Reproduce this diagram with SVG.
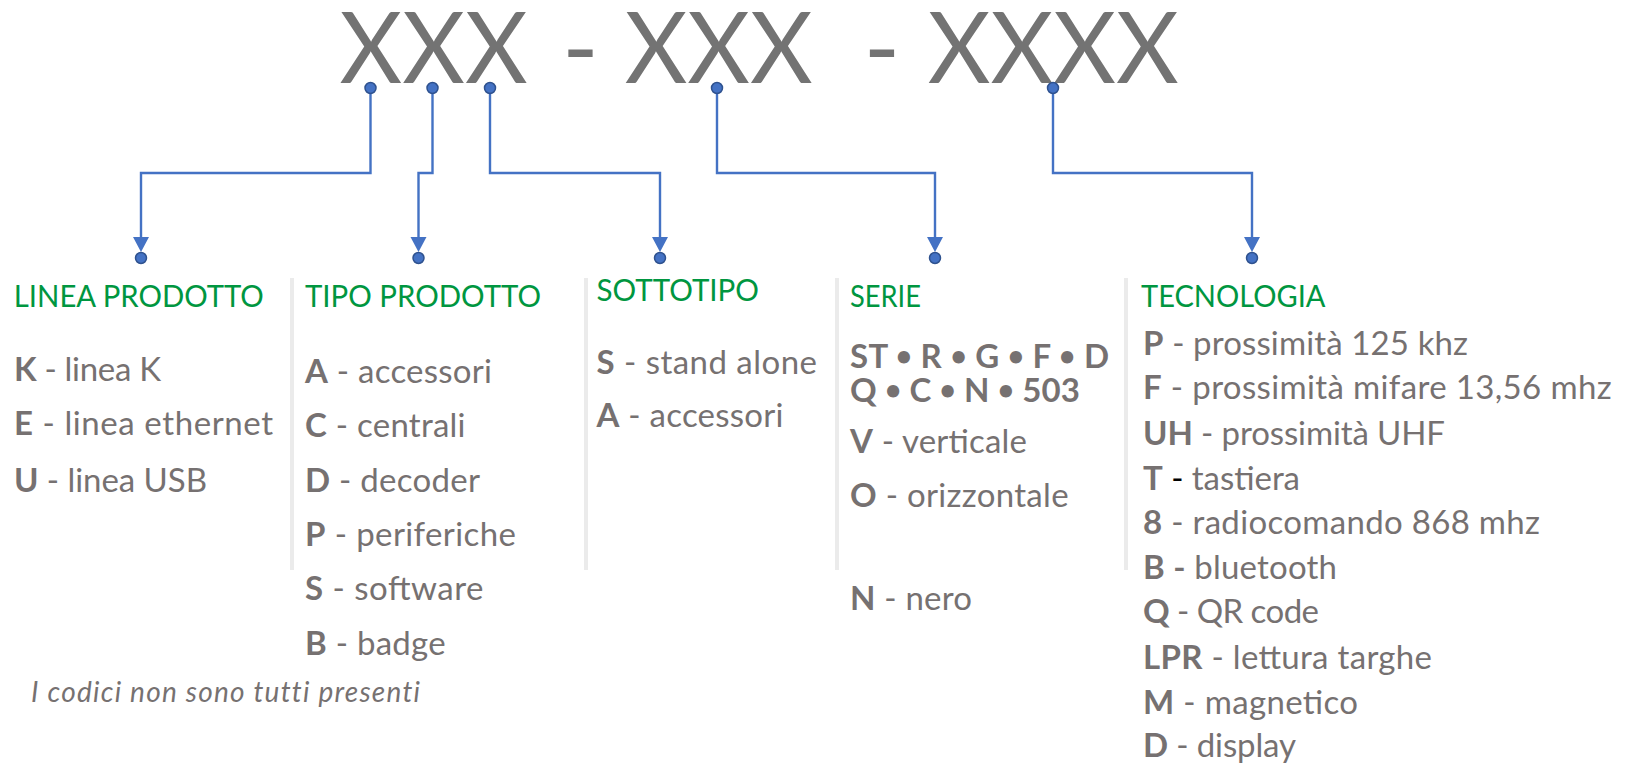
<svg xmlns="http://www.w3.org/2000/svg" width="1626" height="764" viewBox="0 0 1626 764">
  <style>
    .code { font-family: Lato, "Open Sans", sans-serif; font-size: 98px; fill: #737373; }
    .head { font-family: Lato, "Open Sans", sans-serif; font-size: 30px; fill: #009640; }
    .item { font-family: Lato, "Open Sans", sans-serif; font-size: 33px; fill: #767171; }
    .item tspan.k { font-weight: bold; }
    .item tspan.b { font-size: 28px; font-weight: bold; }
    .note { font-family: Lato, "Open Sans", sans-serif; font-size: 28px; font-style: italic; fill: #767171; font-variant-ligatures: none; }
    .sep { stroke: #ebebeb; stroke-width: 4; }
    .wire { fill: none; stroke: #4472C4; stroke-width: 2.4; }
    .dot { fill: #4472C4; stroke: #2F528F; stroke-width: 1.5; }
    .tip { fill: #4472C4; }
  </style>
  <defs>
    <circle id="pin" r="5.5" class="dot"/>
    <path id="head" class="tip" d="M-8,0 H8 L0,15 Z"/>
  </defs>

  <rect width="1626" height="764" fill="#ffffff"/>

  <!-- product code template -->
  <g id="code">
    <text class="code" x="339.6" y="83" textLength="188" lengthAdjust="spacingAndGlyphs">XXX</text>
    <text class="code" x="580.4" y="83" text-anchor="middle">-</text>
    <text class="code" x="624.7" y="83" textLength="188" lengthAdjust="spacingAndGlyphs">XXX</text>
    <text class="code" x="882" y="83" text-anchor="middle">-</text>
    <text class="code" x="927.7" y="83" textLength="251" lengthAdjust="spacingAndGlyphs">XXXX</text>
  </g>

  <!-- column separators -->
  <g id="separators">
    <line class="sep" x1="292" y1="278" x2="292" y2="570"/>
    <line class="sep" x1="586" y1="278" x2="586" y2="570"/>
    <line class="sep" x1="837" y1="278" x2="837" y2="570"/>
    <line class="sep" x1="1126" y1="278" x2="1126" y2="570"/>
  </g>

  <!-- connectors from code positions to categories -->
  <g id="connectors">
    <path class="wire" d="M370.5,88 V173 H141 V238"/>
    <path class="wire" d="M432.5,88 V173 H418.5 V238"/>
    <path class="wire" d="M490,88 V173 H660 V238"/>
    <path class="wire" d="M717,88 V173 H935 V238"/>
    <path class="wire" d="M1053,88 V173 H1252 V238"/>
    <use href="#head" x="141" y="237"/>
    <use href="#head" x="418.5" y="237"/>
    <use href="#head" x="660" y="237"/>
    <use href="#head" x="935" y="237"/>
    <use href="#head" x="1252" y="237"/>
    <use href="#pin" x="370.5" y="88"/>
    <use href="#pin" x="432.5" y="88"/>
    <use href="#pin" x="490" y="88"/>
    <use href="#pin" x="717" y="88"/>
    <use href="#pin" x="1053" y="88"/>
    <use href="#pin" x="141" y="258"/>
    <use href="#pin" x="418.5" y="258"/>
    <use href="#pin" x="660" y="258"/>
    <use href="#pin" x="935" y="258"/>
    <use href="#pin" x="1252" y="258"/>
  </g>

  <g id="linea-prodotto">
    <text class="head" x="13.8" y="307" textLength="250" lengthAdjust="spacingAndGlyphs">LINEA PRODOTTO</text>
    <text class="item" x="14" y="381" textLength="147"><tspan class="k">K</tspan> - linea K</text>
    <text class="item" x="14" y="435" textLength="259"><tspan class="k">E</tspan> - linea ethernet</text>
    <text class="item" x="14" y="491.5" textLength="193"><tspan class="k">U</tspan> - linea USB</text>
    <text class="note" x="31" y="702" textLength="389">I codici non sono tutti presenti</text>
  </g>

  <g id="tipo-prodotto">
    <text class="head" x="305" y="307" textLength="236" lengthAdjust="spacingAndGlyphs">TIPO PRODOTTO</text>
    <text class="item" x="305" y="383" textLength="187"><tspan class="k">A</tspan> - accessori</text>
    <text class="item" x="305" y="437" textLength="160.5"><tspan class="k">C</tspan> - centrali</text>
    <text class="item" x="305" y="491.5" textLength="175"><tspan class="k">D</tspan> - decoder</text>
    <text class="item" x="305" y="546" textLength="211"><tspan class="k">P</tspan> - periferiche</text>
    <text class="item" x="305" y="600" textLength="178.5"><tspan class="k">S</tspan> - software</text>
    <text class="item" x="305" y="655" textLength="140.6"><tspan class="k">B</tspan> - badge</text>
  </g>

  <g id="sottotipo">
    <text class="head" x="596.5" y="301" textLength="162.5" lengthAdjust="spacingAndGlyphs">SOTTOTIPO</text>
    <text class="item" x="596.5" y="373.5" textLength="220.5"><tspan class="k">S</tspan> - stand alone</text>
    <text class="item" x="596.5" y="427" textLength="187"><tspan class="k">A</tspan> - accessori</text>
  </g>

  <g id="serie">
    <text class="head" x="850" y="307" textLength="71" lengthAdjust="spacingAndGlyphs">SERIE</text>
    <text class="item" x="850" y="367.5" textLength="259" font-weight="bold">ST <tspan class="b" baseline-shift="2">•</tspan> R <tspan class="b" baseline-shift="2">•</tspan> G <tspan class="b" baseline-shift="2">•</tspan> F <tspan class="b" baseline-shift="2">•</tspan> D</text>
    <text class="item" x="850" y="402" textLength="230" font-weight="bold">Q <tspan class="b" baseline-shift="2">•</tspan> C <tspan class="b" baseline-shift="2">•</tspan> N <tspan class="b" baseline-shift="2">•</tspan> 503</text>
    <text class="item" x="850" y="453" textLength="177"><tspan class="k">V</tspan> - verticale</text>
    <text class="item" x="850" y="507" textLength="218.6"><tspan class="k">O</tspan> - orizzontale</text>
    <text class="item" x="850" y="609.5" textLength="122"><tspan class="k">N</tspan> - nero</text>
  </g>

  <g id="tecnologia">
    <text class="head" x="1141" y="307" textLength="184.5" lengthAdjust="spacingAndGlyphs">TECNOLOGIA</text>
    <text class="item" x="1143" y="355" textLength="325"><tspan class="k">P</tspan> - prossimità 125 khz</text>
    <text class="item" x="1143" y="398.5" textLength="468.6"><tspan class="k">F</tspan> - prossimità mifare 13,56 mhz</text>
    <text class="item" x="1143" y="444.5" textLength="302"><tspan class="k">UH</tspan> - prossimità UHF</text>
    <text class="item" x="1143" y="489.5" textLength="157"><tspan class="k">T</tspan> <tspan fill="#000000">-</tspan> tastiera</text>
    <text class="item" x="1143" y="534" textLength="397"><tspan class="k">8</tspan> - radiocomando 868 mhz</text>
    <text class="item" x="1143" y="578.5" textLength="194"><tspan class="k">B -</tspan> bluetooth</text>
    <text class="item" x="1143" y="623" textLength="176"><tspan class="k">Q</tspan> - QR code</text>
    <text class="item" x="1143" y="668.5" textLength="289"><tspan class="k">LPR</tspan> - lettura targhe</text>
    <text class="item" x="1143" y="713.5" textLength="215"><tspan class="k">M</tspan> - magnetico</text>
    <text class="item" x="1143" y="757" textLength="153"><tspan class="k">D</tspan> - display</text>
  </g>
</svg>
